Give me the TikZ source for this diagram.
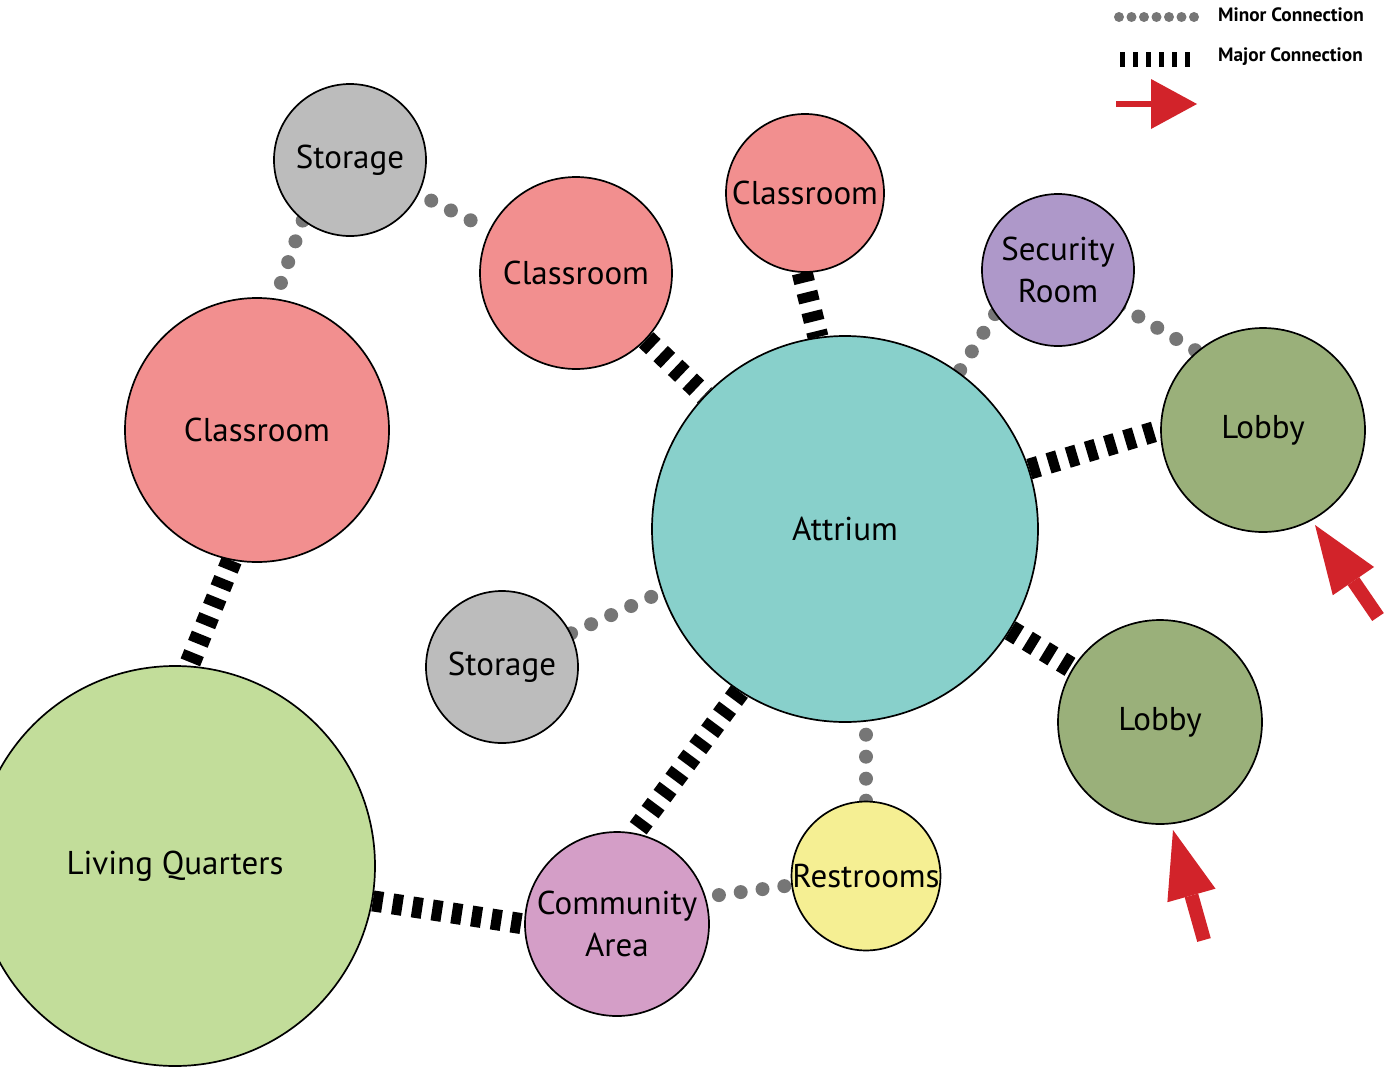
\documentclass[tikz,border=0pt]{standalone}
\usepackage{fontspec}
\setmainfont{PT Sans}
\usetikzlibrary{arrows.meta,backgrounds}
\definecolor{classc}{HTML}{F28F8F}
\definecolor{storc}{HTML}{BCBCBC}
\definecolor{secc}{HTML}{AE98C9}
\definecolor{lobc}{HTML}{9AB07A}
\definecolor{attc}{HTML}{88D0CB}
\definecolor{livc}{HTML}{C2DD9A}
\definecolor{comc}{HTML}{D49EC7}
\definecolor{restc}{HTML}{F5EF93}
\definecolor{dotc}{HTML}{767676}
\definecolor{arrc}{HTML}{D2232A}
\tikzset{
  room/.style={circle, draw=black, line width=1.7pt, inner sep=0pt, minimum size=#1,
    align=center, font=\fontsize{33}{42}\selectfont},
  minorc/.style={draw=dotc, line width=14pt, line cap=round, dash pattern=on 0pt off 22pt},
  majorc/.style={draw=black, line width=21pt, dash pattern=on 10pt off 10pt},
  redarrow/.style={draw=arrc, line width=14pt, -{Triangle[length=68pt,width=50pt,line width=0pt]}},
  legtext/.style={anchor=west, font=\bfseries\fontsize{19.3}{20}\selectfont, inner sep=0pt}
}
\begin{document}
\begin{tikzpicture}[x=1pt,y=-1pt]
\useasboundingbox (0,0) rectangle (1390,1066);
\clip (0,0) rectangle (1390,1066);

% rooms
\node[room=152, fill=storc]  (st1)  at (350,160) {Storage};
\node[room=192, fill=classc] (cl1)  at (576,273) {Classroom};
\node[room=158, fill=classc] (cl2)  at (805,193) {Classroom};
\node[room=152, fill=secc]   (sec)  at (1058,270) {Security\\Room};
\node[room=204, fill=lobc]   (lob1) at (1263,430) {Lobby};
\node[room=264, fill=classc] (cl3)  at (257,430) {Classroom};
\node[room=386, fill=attc]   (att)  at (845,529) {Attrium};
\node[room=152, fill=storc]  (st2)  at (502,667) {Storage};
\node[room=204, fill=lobc]   (lob2) at (1160,722) {Lobby};
\node[room=400, fill=livc]   (liv)  at (175,866) {Living Quarters};
\node[room=184, fill=comc]   (com)  at (617,924) {Community\\Area};
\node[room=144, fill=restc]  (rest) at (866,876) {Restrooms};

% connectors (under the rooms)
\begin{scope}[on background layer]
\fill[white] (0,0) rectangle (1390,1066);
\draw[minorc, shorten <=-8pt] (st1) -- (cl1);
\draw[minorc] (st1.232) -- (cl3.82);
\draw[minorc] (sec.215) -- (att.54);
\draw[minorc, shorten <=-6pt] (sec.-30) -- (lob1.130);
\draw[minorc] (st2.26) -- (att.199);
\draw[minorc] (rest.north) -- (att.south -| rest.north);
\draw[minorc, shorten <=7pt] (rest.187) -- (com.17);

\draw[majorc] (cl1) -- (att);
\draw[majorc] (cl2.-92) -- (att.98);
\draw[majorc] (att.18) -- (lob1.180);
\draw[majorc] (att) -- (lob2);
\draw[majorc] (att.237) -- (com.79);
\draw[majorc] (cl3.259) -- (liv.86);
\draw[majorc] (liv.-10) -- (com.180);
\end{scope}

% entrance arrows
\coordinate (a1s) at (1378,617);
\coordinate (a1e) at (1315,525);
\coordinate (a2s) at (1204,940);
\coordinate (a2e) at (1173,830);
\draw[redarrow] (a1s) -- (a1e);
\draw[redarrow] (a2s) -- (a2e);

% legend
\coordinate (lm1) at (1119,17);
\coordinate (lm2) at (1194,17);
\coordinate (lj1) at (1120,59);
\coordinate (lj2) at (1198,59);
\coordinate (la1) at (1116,104);
\coordinate (la2) at (1197,104);
\draw[draw=dotc, line width=10pt, line cap=round, dash pattern=on 0pt off 12.5pt] (lm1) -- (lm2);
\draw[draw=black, line width=15pt, dash pattern=on 4.5pt off 8.5pt] (lj1) -- (lj2);
\draw[draw=arrc, line width=6pt, -{Triangle[length=46pt,width=50pt,line width=0pt]}] (la1) -- (la2);
\node[legtext] (lgmin) at (1218,15) {Minor Connection};
\node[legtext] (lgmaj) at (1218,57) {Major Connection};
\end{tikzpicture}
\end{document}
